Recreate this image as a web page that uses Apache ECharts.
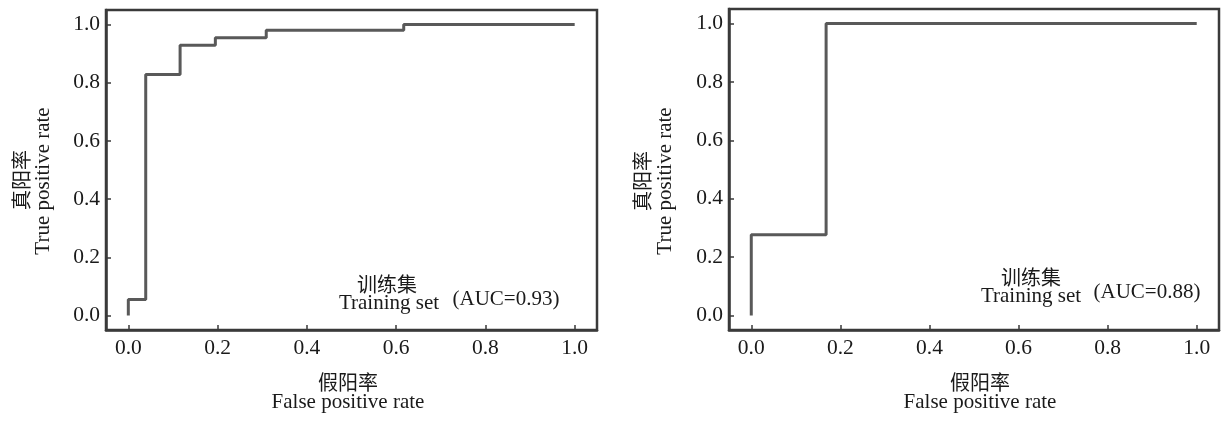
<!DOCTYPE html>
<html>
<head>
<meta charset="utf-8">
<script src="https://cdn.jsdelivr.net/npm/echarts@6/dist/echarts.min.js"></script>
<style>
html,body{margin:0;padding:0;background:#fff;}
#c{width:1223px;height:421px;}
</style>
</head>
<body>
<div id="c"></div>
<script>
// ROC curve points (false positive rate, true positive rate)
var leftFPR = [0, 0, 0.039, 0.039, 0.116, 0.116, 0.195, 0.195, 0.309, 0.309, 0.617, 0.617, 1.0];
var leftTPR = [0, 0.055, 0.055, 0.828, 0.828, 0.929, 0.929, 0.955, 0.955, 0.980, 0.980, 1.0, 1.0];
var rightFPR = [0, 0, 0.168, 0.168, 1.0];
var rightTPR = [0, 0.276, 0.276, 1.0, 1.0];
var tickValues = [0, 0.2, 0.4, 0.6, 0.8, 1.0];
var xTitleCN = '假阳率', xTitleEN = 'False positive rate';
var yTitleCN = '真阳率', yTitleEN = 'True positive rate';
var annoCN = '训练集', annoEN = 'Training set';
var aucLeft = '(AUC=0.93)', aucRight = '(AUC=0.88)';

var SERIF = '"Liberation Serif","Times New Roman",serif';
var CJK = '"Noto Sans CJK SC",sans-serif';
var TXT = '#1a1a1a';
var AX = '#3a3a3a';

function pairs(xs, ys){ return xs.map(function(x,i){ return [x, ys[i]]; }); }

function axis(gi, type){
  return {
    type: 'value', gridIndex: gi, min: -0.05, max: 1.05,
    axisLine: {show: true, onZero: false, lineStyle: {color: AX, width: 2.5}},
    axisTick: {show: true, inside: true, length: 5, customValues: tickValues, lineStyle: {color: AX, width: 1.5}},
    axisLabel: {show: true, customValues: tickValues, margin: type === 'x' ? 7 : 6,
      formatter: function(v){ return v.toFixed(1); },
      color: TXT, fontFamily: SERIF, fontSize: 21.5},
    splitLine: {show: false}
  };
}

function txt(text, x, y, font, rot){
  var el = {type: 'text', x: x, y: y, silent: true,
    style: {text: text, x: 0, y: 0, textAlign: 'center', textVerticalAlign: 'middle', font: font, fill: TXT}};
  if (rot) el.rotation = rot;
  return el;
}
var fEN = '21px ' + SERIF, fCN = '20px ' + CJK;

var chart = echarts.init(document.getElementById('c'), null, {renderer: 'canvas'});
chart.setOption({
  animation: false,
  backgroundColor: '#fff',
  grid: [
    {left: 106, top: 10, width: 491, height: 320, show: true, borderColor: AX, borderWidth: 2.5, backgroundColor: 'transparent'},
    {left: 729, top: 9, width: 490, height: 321, show: true, borderColor: AX, borderWidth: 2.5, backgroundColor: 'transparent'}
  ],
  xAxis: [axis(0, 'x'), axis(1, 'x')],
  yAxis: [axis(0, 'y'), axis(1, 'y')],
  series: [
    {type: 'line', xAxisIndex: 0, yAxisIndex: 0, data: pairs(leftFPR, leftTPR), showSymbol: false,
      lineStyle: {color: '#595959', width: 3}},
    {type: 'line', xAxisIndex: 1, yAxisIndex: 1, data: pairs(rightFPR, rightTPR), showSymbol: false,
      lineStyle: {color: '#595959', width: 3}}
  ],
  graphic: [
    txt(xTitleCN, 348, 382, fCN),
    txt(xTitleEN, 348, 402, fEN),
    txt(yTitleCN, 21, 180, fCN, Math.PI/2),
    txt(yTitleEN, 43, 181, fEN, Math.PI/2),
    txt(annoCN, 387, 284, fCN),
    txt(annoEN, 389, 303, fEN),
    txt(aucLeft, 506, 299, fEN),

    txt(xTitleCN, 980, 382, fCN),
    txt(xTitleEN, 980, 402, fEN),
    txt(yTitleCN, 642, 181, fCN, Math.PI/2),
    txt(yTitleEN, 665, 181, fEN, Math.PI/2),
    txt(annoCN, 1031, 277, fCN),
    txt(annoEN, 1031, 296, fEN),
    txt(aucRight, 1147, 292, fEN)
  ]
});
</script>
</body>
</html>
